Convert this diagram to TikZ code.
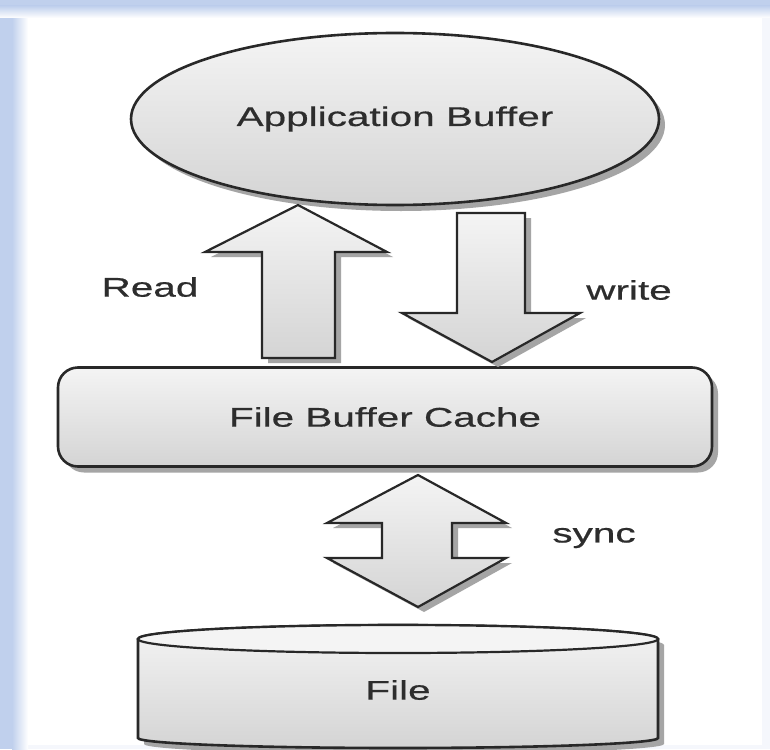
\documentclass[tikz,border=0pt]{standalone}
\usepackage{fontspec}
\newfontfamily\diagfont[FakeStretch=1.5,FakeBold=0.6]{Liberation Sans}
\usetikzlibrary{shapes.geometric,shadows}
\definecolor{frameblue}{RGB}{192,208,237}
\definecolor{framefaint}{RGB}{245,247,252}
\definecolor{outline}{RGB}{40,40,40}
\definecolor{txt}{RGB}{45,45,45}
\definecolor{shadowgray}{RGB}{165,165,165}
\definecolor{filltop}{RGB}{244,244,244}
\definecolor{fillbot}{RGB}{212,212,212}
\tikzset{
  shapebox/.style={draw=outline, line width=2.6pt, top color=filltop, bottom color=fillbot,
    drop shadow={shadow xshift=6pt, shadow yshift=-6pt, fill=shadowgray, opacity=1}},
  lbl/.style={text=txt, font=\diagfont\fontsize{27}{32}\selectfont, inner sep=0pt},
  blockarrow/.style={draw=outline, line width=2.2pt, line join=miter, top color=filltop, bottom color=fillbot,
    drop shadow={shadow xshift=6pt, shadow yshift=-5pt, fill=shadowgray, opacity=1}}
}
\begin{document}
\begin{tikzpicture}[x=1pt,y=-1pt]
\useasboundingbox (0,0) rectangle (770,749);
% background frame
\fill[white] (0,0) rectangle (770,749);
\fill[framefaint] (762,0) rectangle (770,749);
\fill[framefaint] (0,745) rectangle (770,749);
\fill[frameblue] (0,0) rectangle (12,749);
\shade[left color=frameblue, right color=white] (12,0) rectangle (28,749);
\fill[frameblue] (0,0) rectangle (770,6);
\shade[top color=frameblue, bottom color=white] (12,6) rectangle (770,18);
\shade[top color=frameblue, bottom color=frameblue!0] (0,6) rectangle (12,18);

% Application Buffer
\node[shapebox, ellipse, minimum width=528pt, minimum height=172pt, inner sep=0pt] (app) at (395,119) {};
\node[lbl] (applbl) at (app.center) {Application Buffer};

% File Buffer Cache
\node[shapebox, rectangle, rounded corners=20pt, minimum width=654pt, minimum height=99pt] (cache) at (385,417) {};
\node[lbl] (cachelbl) at (cache.center) {File Buffer Cache};

% File (cylinder)
\path[shapebox] (138,639) -- (138,738) arc[start angle=180, end angle=0, x radius=260, y radius=10]
  -- (658,639) arc[start angle=0, end angle=-180, x radius=260, y radius=14] -- cycle;
\draw[outline, line width=2.2pt, fill=filltop] (398,639) ellipse[x radius=260, y radius=14];
\node[lbl] (file) at (398,690) {File};

% Read arrow (up)
\path[blockarrow] (298,205) -- (387,252) -- (335,252) -- (335,358) -- (262,358) -- (262,252) -- (205,252) -- cycle;
% write arrow (down)
\path[blockarrow] (457,213) -- (525,213) -- (525,313) -- (580,313) -- (492,362) -- (402,313) -- (457,313) -- cycle;
% sync arrow (both)
\path[blockarrow] (418,475) -- (506,523) -- (452,523) -- (452,558) -- (506,558) -- (418,607)
  -- (327,558) -- (382,558) -- (382,523) -- (327,523) -- cycle;

\node[lbl] (read) at (150,287) {Read};
\node[lbl] (write) at (629,290) {write};
\node[lbl] (sync) at (594,538) {sync};
\end{tikzpicture}
\end{document}
